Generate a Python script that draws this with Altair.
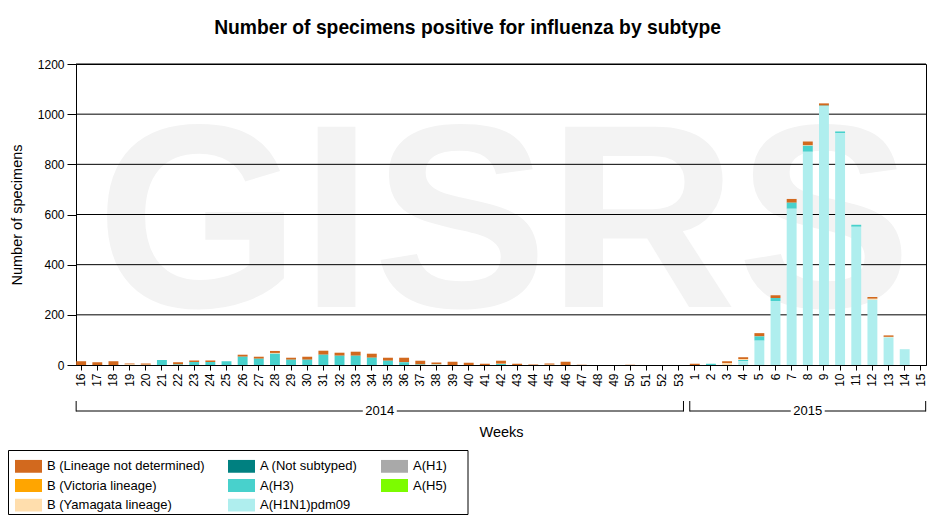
import altair as alt
import pandas as pd

# ---------------- data ----------------
weeks_2014 = ["16", "17", "18", "19", "20", "21", "22", "23", "24", "25",
              "26", "27", "28", "29", "30", "31", "32", "33", "34", "35",
              "36", "37", "38", "39", "40", "41", "42", "43", "44", "45",
              "46", "47", "48", "49", "50", "51", "52", "53"]
weeks_2015 = ["1", "2", "3", "4", "5", "6", "7", "8", "9", "10",
              "11", "12", "13", "14", "15"]
years = ["2014", "2015"]

b_not_determined = [15, 11, 15, 4, 5, 0, 9, 6, 6, 0,
                    8, 8, 8, 8, 12, 16, 12, 16, 16, 12,
                    18, 15, 7, 13, 9, 5, 12, 5, 2, 5,
                    13, 1, 0, 0, 1, 0, 0, 0,
                    5, 0, 8, 7, 13, 11, 15, 15, 9, 0, 0, 7, 6, 0, 0]
b_yamagata = [0, 0, 0, 2, 1, 0, 0, 0, 0, 0,
              0, 0, 3, 0, 0, 0, 0, 0, 0, 0,
              0, 0, 2, 0, 0, 0, 1, 0, 0, 1,
              0, 0, 0, 0, 0, 0, 0, 0,
              0, 0, 7, 4, 0, 0, 0, 2, 0, 0, 0, 4, 2, 0, 0]
b_victoria = [0] * 53
a_not_subtyped = [0] * 53
a_h1 = [0] * 53
a_h5 = [0] * 53
a_h3 = [0, 0, 0, 0, 0, 20, 2, 12, 12, 15,
        33, 25, 45, 21, 21, 41, 37, 37, 29, 17,
        11, 2, 1, 0, 0, 0, 4, 0, 0, 0,
        0, 0, 0, 0, 0, 0, 0, 0,
        0, 5, 0, 5, 17, 12, 24, 24, 3, 7, 8, 0, 0, 0, 0]
a_h1n1pdm09 = [0, 0, 0, 0, 0, 0, 0, 0, 0, 0,
               0, 0, 0, 0, 0, 0, 0, 0, 0, 0,
               0, 0, 0, 0, 0, 0, 0, 0, 0, 0,
               0, 0, 0, 0, 0, 0, 0, 0,
               0, 0, 0, 15, 97, 255, 623, 850, 1031, 924, 551, 260, 110, 63, 0]

# legend order (column-major, 3 rows) and colours
subtypes = ["B (Lineage not determined)", "B (Victoria lineage)", "B (Yamagata lineage)",
            "A (Not subtyped)", "A(H3)", "A(H1N1)pdm09",
            "A(H1)", "A(H5)"]
colors = ["#D2691E", "#FFA500", "#FFDEAD",
          "#008080", "#48D1CC", "#AFEEEE",
          "#A9A9A9", "#7CFC00"]
# stacking order, bottom first
stack_order = ["A(H1N1)pdm09", "A(H3)", "A(H5)", "A(H1)", "A (Not subtyped)",
               "B (Yamagata lineage)", "B (Victoria lineage)",
               "B (Lineage not determined)"]
y_ticks = [0, 200, 400, 600, 800, 1000, 1200]

series = {
    "B (Lineage not determined)": b_not_determined,
    "B (Victoria lineage)": b_victoria,
    "B (Yamagata lineage)": b_yamagata,
    "A (Not subtyped)": a_not_subtyped,
    "A(H3)": a_h3,
    "A(H1N1)pdm09": a_h1n1pdm09,
    "A(H1)": a_h1,
    "A(H5)": a_h5,
}

weeks = weeks_2014 + weeks_2015
rows = []
for name, vals in series.items():
    for w, v in zip(weeks, vals):
        rows.append({"week": w, "subtype": name, "count": v,
                     "order": stack_order.index(name)})
bars_df = pd.DataFrame(rows)

# ---------------- layout ----------------
W, H = 850, 301
PI, PO = 0.387, 0.013
n = len(weeks)
step = W / (n - PI + 2 * PO)
first_center = 0.5 * (W - step * (n - PI)) + step * (1 - PI) / 2
idx_min = -first_center / step
idx_max = (W - first_center) / step
idx_scale = alt.Scale(domain=[idx_min, idx_max], range=[0, W], nice=False, zero=False)

FONT = "Liberation Sans"

# year brackets (in band-index units)
year_weeks = [weeks_2014, weeks_2015]
seg_rows, tick_rows, lab_rows = [], [], []
gap = 17 / step
for yname, wl in zip(years, year_weeks):
    s = max(weeks.index(wl[0]) - 0.31, idx_min)
    e = min(weeks.index(wl[-1]) + 0.3, idx_max)
    c = (s + e) / 2
    seg_rows += [{"a": s, "b": c - gap}, {"a": c + gap, "b": e}]
    tick_rows += [{"a": s}, {"a": e}]
    lab_rows.append({"c": c, "year": yname})
seg_df = pd.DataFrame(seg_rows)
tick_df = pd.DataFrame(tick_rows)
lab_df = pd.DataFrame(lab_rows)

y_scale = alt.Scale(domain=[0, 1200], nice=False)
y_axis = alt.Axis(title="Number of specimens", values=y_ticks, grid=False, format="d",
                  labelFont=FONT, labelFontSize=12, labelColor="black",
                  tickColor="black", domainColor="black", tickSize=9,
                  labelPadding=3, titleFont=FONT, titleFontSize=14.5,
                  titleFontWeight="normal", titleColor="black",
                  titleX=-59, titleBaseline="middle")

# ---------------- layers ----------------
title_txt = alt.Chart(pd.DataFrame({"t": ["Number of specimens positive for influenza by subtype"]})).mark_text(
    font=FONT, fontSize=19.3, fontWeight="bold", color="black",
    align="center", baseline="alphabetic"
).encode(text="t:N", x=alt.value(391.5), y=alt.value(-30))

watermark = alt.Chart(pd.DataFrame({"t": ["GISRS"]})).mark_text(
    font=FONT, fontWeight="bold", fontSize=262, color="#f3f3f3",
    align="center", baseline="alphabetic"
).encode(text="t:N", x=alt.value(428), y=alt.value(243))

grid = alt.Chart(pd.DataFrame({"count": y_ticks[1:]})).mark_rule(
    color="black", strokeWidth=1
).encode(y=alt.Y("count:Q", scale=y_scale, axis=y_axis))

bars = alt.Chart(bars_df).mark_bar().encode(
    x=alt.X("week:N", sort=weeks,
            scale=alt.Scale(domain=weeks, paddingInner=PI, paddingOuter=PO),
            axis=alt.Axis(title="Weeks", labelAngle=270, labelFont=FONT,
                          labelFontSize=12, labelColor="black", tickColor="black",
                          domainColor="black", tickSize=5, labelPadding=3,
                          titleFont=FONT, titleFontSize=14.5, titleFontWeight="normal",
                          titleColor="black", titleY=71.5, titleBaseline="alphabetic")),
    y=alt.Y("count:Q", stack="zero", scale=y_scale, axis=y_axis),
    color=alt.Color("subtype:N",
                    scale=alt.Scale(domain=subtypes, range=colors),
                    legend=alt.Legend(orient="none", legendX=-61, legendY=395.5,
                                      columns=3, title=None,
                                      symbolType="M-1,-0.48H1V0.48H-1Z",
                                      symbolSize=729, symbolStrokeWidth=0,
                                      clipHeight=13, rowPadding=5.5, columnPadding=23,
                                      labelOffset=5, padding=0, labelLimit=400,
                                      labelFont=FONT, labelFontSize=13,
                                      labelColor="black")),
    order=alt.Order("order:Q", sort="ascending"),
)

bracket_lines = alt.Chart(seg_df).mark_rule(color="black", strokeWidth=1).encode(
    x=alt.X("a:Q", scale=idx_scale, axis=None), x2="b:Q", y=alt.value(347)
)
bracket_ticks = alt.Chart(tick_df).mark_rule(color="black", strokeWidth=1).encode(
    x=alt.X("a:Q", scale=idx_scale, axis=None), y=alt.value(337), y2=alt.value(347.5)
)
bracket_labels = alt.Chart(lab_df).mark_text(
    font=FONT, fontSize=13, color="black", align="center", baseline="middle"
).encode(x=alt.X("c:Q", scale=idx_scale, axis=None), y=alt.value(347), text="year:N")

legend_box = alt.Chart(pd.DataFrame({"k": [0]})).mark_rect(
    fillOpacity=0, stroke="black", strokeWidth=1
).encode(x=alt.value(-67.5), x2=alt.value(392), y=alt.value(386.5), y2=alt.value(450.5))

chart = alt.layer(
    watermark, grid, bars, bracket_lines, bracket_ticks, bracket_labels,
    legend_box, title_txt
).resolve_scale(x="independent").properties(
    width=W, height=H, autosize="none",
    padding={"left": 68, "top": 56, "right": 1, "bottom": 150},
).configure_view(stroke="black", strokeWidth=1)

chart.save("out.html", embed_options={"renderer": "svg", "actions": False})
